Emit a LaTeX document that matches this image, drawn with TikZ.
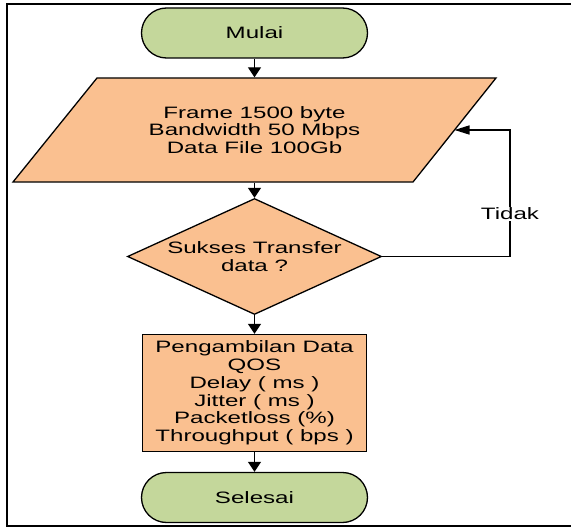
\documentclass[tikz,border=0pt]{standalone}
\usepackage{fontspec}
\setmainfont{Liberation Sans}[FakeStretch=1.46]
\usetikzlibrary{shapes.geometric,arrows.meta}

\definecolor{termfill}{RGB}{196,215,155}
\definecolor{stepfill}{RGB}{250,192,144}

\begin{document}
\begin{tikzpicture}[x=1pt,y=-1pt,
  every node/.style={font=\fontsize{16.5pt}{17.8pt}\selectfont, align=center, text=black},
  shapeline/.style={draw=black, line width=1.3pt},
  terminal/.style={shapeline, fill=termfill, rounded corners=25pt,
    minimum width=226pt, minimum height=50pt, inner sep=0pt},
  textonly/.style={inner sep=0pt, outer sep=0.7pt},
  decision/.style={shapeline, fill=stepfill, diamond,
    minimum width=254pt, minimum height=116pt, inner sep=0pt},
  process/.style={shapeline, fill=stepfill,
    minimum width=224pt, minimum height=117pt, inner sep=0pt},
  flowv/.style={line width=1.4pt, -{Triangle[width=13pt,length=10pt]}},
  flowh/.style={line width=1.4pt, -{Triangle[width=9pt,length=15pt]}},
  plain/.style={line width=1.4pt}]

\useasboundingbox (0,0) rectangle (571,527);

% outer frame, open on the right
\draw[line width=2pt] (580,4) -- (7,4) -- (7,525.5) -- (580,525.5);

% data input parallelogram
\draw[shapeline, fill=stepfill] (97,78) -- (496,78) -- (413,182) -- (13,182) -- cycle;
\coordinate (inputright) at (454.5,130);

\node[terminal] (start) at (254.5,33) {Mulai};
\node[textonly, minimum width=240pt, minimum height=104pt] (input) at (254.5,130)
  {Frame 1500 byte\\Bandwidth 50 Mbps\\Data File 100Gb};
\node[decision] (check) at (254.5,256.5) {};
\node[textonly] (checktext) at (check.center) {Sukses Transfer\\data ?};
\node[process] (qos) at (254.5,393) {Pengambilan Data\\QOS\\Delay ( ms )\\Jitter ( ms )\\Packetloss (\%)\\Throughput ( bps )};
\node[terminal] (finish) at (254.5,497.5) {Selesai};

\coordinate (loop) at (510,256.5);

\draw[flowv] (start) -- (input);
\draw[flowv] (input) -- (check);
\draw[flowv] (check) -- (qos);
\draw[flowv] (qos) -- (finish);
\draw[plain] (check.east) -- (loop);
\draw[flowh] (loop) |- (inputright);
\node[fill=white, inner sep=1pt] (nolabel) at (510,214) {Tidak};

\end{tikzpicture}
\end{document}
